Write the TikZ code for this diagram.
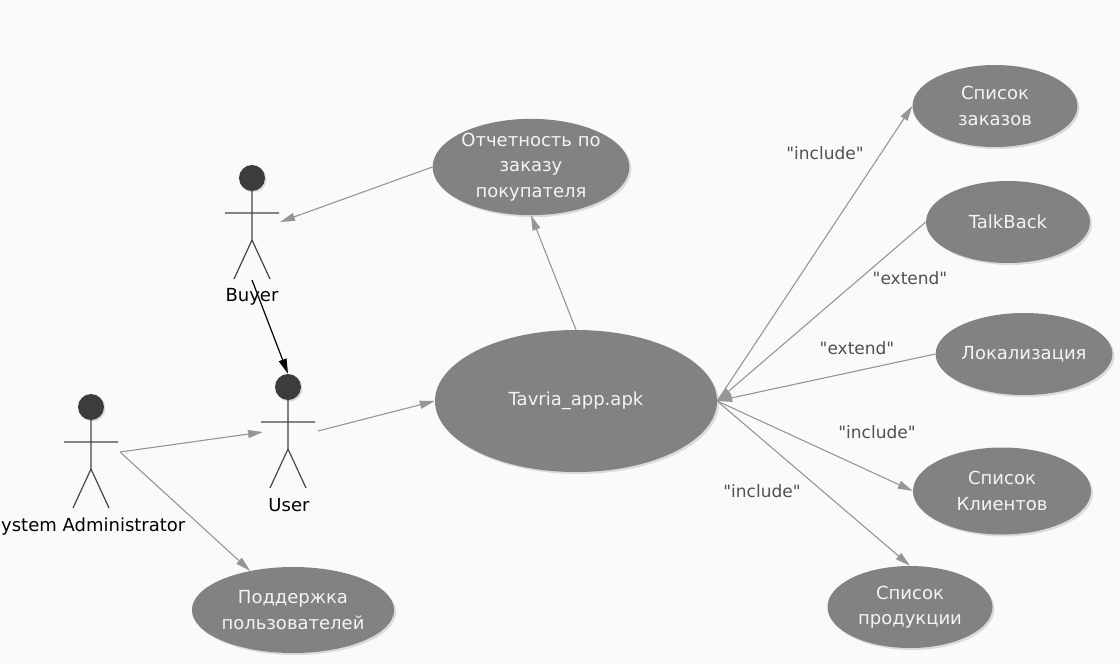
\documentclass[tikz,border=0pt]{standalone}
\usepackage{fontspec}
\setmainfont{DejaVu Sans}
% a second copy of the family without TeX ligatures, so " stays a straight quote
\newfontfamily\stereofont{DejaVu Sans}
\usetikzlibrary{arrows.meta,shapes.geometric,shadows}

\definecolor{bg}{RGB}{250,250,250}
\definecolor{ucfill}{RGB}{130,130,130}
\definecolor{uctext}{RGB}{244,244,244}
\definecolor{wire}{RGB}{150,150,150}
\definecolor{stick}{RGB}{70,70,70}
\definecolor{headc}{RGB}{60,60,60}
\definecolor{lbl}{RGB}{80,80,80}

\tikzset{
  usecase/.style={ellipse, fill=ucfill, text=uctext, inner sep=0pt, align=center,
    font=\fontsize{18}{25.5}\selectfont,
    drop shadow={shadow xshift=2pt, shadow yshift=-2pt, fill=black, opacity=0.12}},
  assoc/.style={draw=wire, line width=1.1pt, -{Triangle[length=15pt,width=8pt]}},
  gen/.style={draw=black, line width=1.2pt, -{Triangle[length=15pt,width=8pt]}},
  stereo/.style={text=lbl, font=\stereofont\fontsize{17}{20}\selectfont},
  actorname/.style={text=black, font=\fontsize{18}{20}\selectfont},
  stickline/.style={draw=stick, line width=1.2pt},
  head/.style={circle, fill=headc, minimum size=26pt, inner sep=0pt,
    drop shadow={shadow xshift=1.5pt, shadow yshift=-1.5pt, fill=black, opacity=0.12}},
  actor/.pic={
    \draw[stickline] (0,13) -- (0,62) (-27,35) -- (27,35)
      (-18,101) -- (0,62) -- (18,101);
    \node[head] (-head) at (0,0) {};
    \coordinate (-rhs) at (28,44);
    \coordinate (-lhs) at (-25,45);
    \coordinate (-foot) at (0,102);
  },
}

\begin{document}
\begin{tikzpicture}[x=1pt,y=-1pt]
  \useasboundingbox (0,0) rectangle (1120,664);
  \fill[bg] (0,0) rectangle (1120,664);

  % actors
  \pic (buyer) at (252,178) {actor};
  \pic (user) at (288,387) {actor};
  \pic (sa) at (91,407) {actor};
  \coordinate (user-rhs) at (318,431);
  \coordinate (sa-rhs) at (120,452);
  \node[actorname] (buyerlbl) at (252,297) {Buyer};
  \node[actorname] (userlbl) at (289,505) {User};
  \node[actorname, anchor=west, inner xsep=0pt] (salbl) at (1,527) {ystem Administrator};

  % use cases
  \node[usecase, minimum width=192pt, minimum height=96pt] (otch) at (531,167)
    {Отчетность по\\заказу\\покупателя};
  \node[usecase, minimum width=282pt, minimum height=142pt] (tav) at (576,401)
    {Tavria\_app.apk};
  \node[usecase, minimum width=165pt, minimum height=82pt] (zak) at (995,106)
    {Список\\заказов};
  \node[usecase, minimum width=164pt, minimum height=82pt] (talk) at (1008,222)
    {TalkBack};
  \node[usecase, minimum width=165pt, minimum height=82pt] (lok) at (1024,354)
    {Локализация};
  \node[usecase, minimum width=178pt, minimum height=87pt] (kl) at (1002,491)
    {Список\\Клиентов};
  \node[usecase, minimum width=165pt, minimum height=82pt] (prod) at (910,607)
    {Список\\продукции};
  \node[usecase, minimum width=174pt, minimum height=86pt] (podd) at (293,610)
    {Поддержка\\пользователей};

  % connectors
  \draw[assoc] (otch.west) -- (buyer-rhs);
  \draw[assoc] (tav.north) -- (otch.south);
  \draw[gen] (buyer-foot) -- (user-head.north);
  \draw[assoc] (sa-rhs) -- (user-lhs);
  \draw[assoc] (sa-rhs) -- (podd);
  \draw[assoc] (user-rhs) -- (tav.west);
  \draw[assoc] (tav.east) -- (zak.west);
  \draw[assoc] (talk.west) -- (tav.east);
  \draw[assoc] (lok.west) -- (tav.east);
  \draw[assoc] (tav.east) -- (kl.west);
  \draw[assoc] (tav.east) -- (prod.north);

  % stereotypes
  \node[stereo] (s1) at (825,153) {"include"};
  \node[stereo] (s2) at (910,278) {"extend"};
  \node[stereo] (s3) at (857,348) {"extend"};
  \node[stereo] (s4) at (877,432) {"include"};
  \node[stereo] (s5) at (762,491) {"include"};
\end{tikzpicture}
\end{document}
